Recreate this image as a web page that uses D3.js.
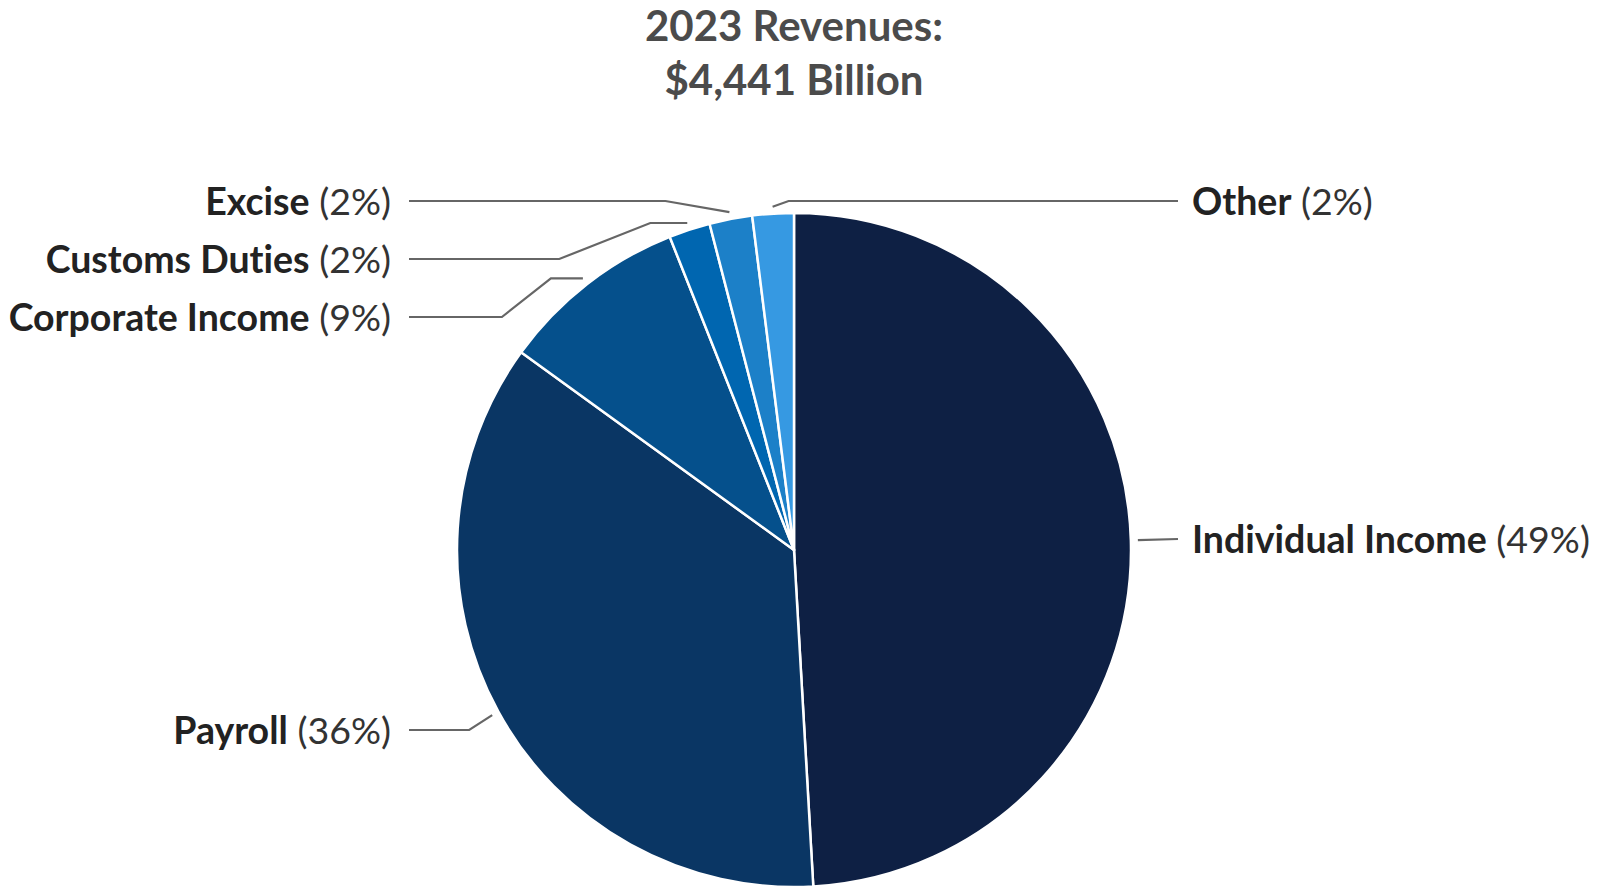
<!DOCTYPE html>
<html>
<head>
<meta charset="utf-8">
<script src="https://cdn.jsdelivr.net/npm/d3@7"></script>
<style>
  body { margin: 0; background: #fff; }
  svg { display: block; font-family: Lato, "Open Sans", sans-serif; font-variant-ligatures: none; }
</style>
</head>
<body>
<svg id="visu"></svg>
<script>
// revenue sources, billions of dollars
var categories = ["Individual Income", "Payroll", "Corporate Income", "Customs Duties", "Excise", "Other"];
var revenues = [2180, 1594, 400, 88, 91, 88];
var titleLines = ["2023 Revenues:", "$4,441 Billion"];

var colors = ["#0e2044", "#0a3664", "#05508c", "#0066b0", "#1c80c8", "#3699e2"];

// label placement: side, label y and leader bends (dx from the start point)
var labelSide = ["right", "left", "left", "left", "left", "right"];
var labelY = [539, 730, 317, 259, 201, 201];
var leaderBends = [
    [],
    [{dx: -23, toLabel: true}],
    [{dx: -32, toLabel: false}, {dx: -81, toLabel: true}],
    [{dx: -37, toLabel: false}, {dx: -128, toLabel: true}],
    [{dx: -64, toLabel: true}],
    [{dx: 16, toLabel: true}]
];

var WIDTH = 1602,
    HEIGHT = 887,
    CX = 794,
    CY = 550,
    R = 337,
    LEFT_TEXT = 391,
    RIGHT_TEXT = 1192;

var vis = d3.select("#visu")
    .attr("width", WIDTH)
    .attr("height", HEIGHT);

var total = d3.sum(revenues);
var data = categories.map(function(c, i) {
    return {name: c, value: revenues[i], idx: i};
});

var pie = d3.pie()
    .sort(null)
    .value(function(d) { return d.value; });

var arc = d3.arc().innerRadius(0).outerRadius(R);
var outer = d3.arc().innerRadius(R + 7).outerRadius(R + 7);

var arcs = pie(data);

var g = vis.append("g").attr("transform", "translate(" + CX + "," + CY + ")");

g.selectAll("path.slice")
    .data(arcs)
    .enter().append("path")
    .attr("class", "slice")
    .attr("d", arc)
    .attr("fill", function(d) { return colors[d.data.idx]; })
    .attr("stroke", "#fff")
    .attr("stroke-width", 2.5)
    .attr("stroke-linejoin", "round");

// title
vis.append("text")
    .attr("x", CX)
    .attr("y", 41)
    .attr("text-anchor", "middle")
    .attr("font-size", 42)
    .attr("font-weight", 700)
    .attr("fill", "#4b4b4b")
    .selectAll("tspan")
    .data(titleLines)
    .enter().append("tspan")
    .attr("x", CX)
    .attr("dy", function(d, i) { return i === 0 ? 0 : 53.5; })
    .text(function(d) { return d; });

// leader lines
var line = d3.line();
arcs.forEach(function(a) {
    var i = a.data.idx;
    var c = outer.centroid(a);
    var start = [CX + c[0], CY + c[1]];
    var pts = [start];
    leaderBends[i].forEach(function(b) {
        pts.push([start[0] + b.dx, b.toLabel ? labelY[i] : start[1]]);
    });
    var endX = labelSide[i] === "left" ? LEFT_TEXT + 18 : RIGHT_TEXT - 14;
    pts.push([endX, labelY[i]]);
    vis.append("path")
        .attr("d", line(pts))
        .attr("fill", "none")
        .attr("stroke", "#666")
        .attr("stroke-width", 2.2);
});

// labels
arcs.forEach(function(a) {
    var i = a.data.idx;
    var pct = Math.round(a.data.value / total * 100);
    var t = vis.append("text")
        .attr("x", labelSide[i] === "left" ? LEFT_TEXT : RIGHT_TEXT)
        .attr("y", labelY[i])
        .attr("dy", "0.36em")
        .attr("text-anchor", labelSide[i] === "left" ? "end" : "start")
        .attr("font-size", 37.5);
    t.append("tspan")
        .attr("font-weight", 700)
        .attr("fill", "#222")
        .text(a.data.name);
    t.append("tspan")
        .attr("fill", "#333")
        .text(" (" + pct + "%)");
});
</script>
</body>
</html>
